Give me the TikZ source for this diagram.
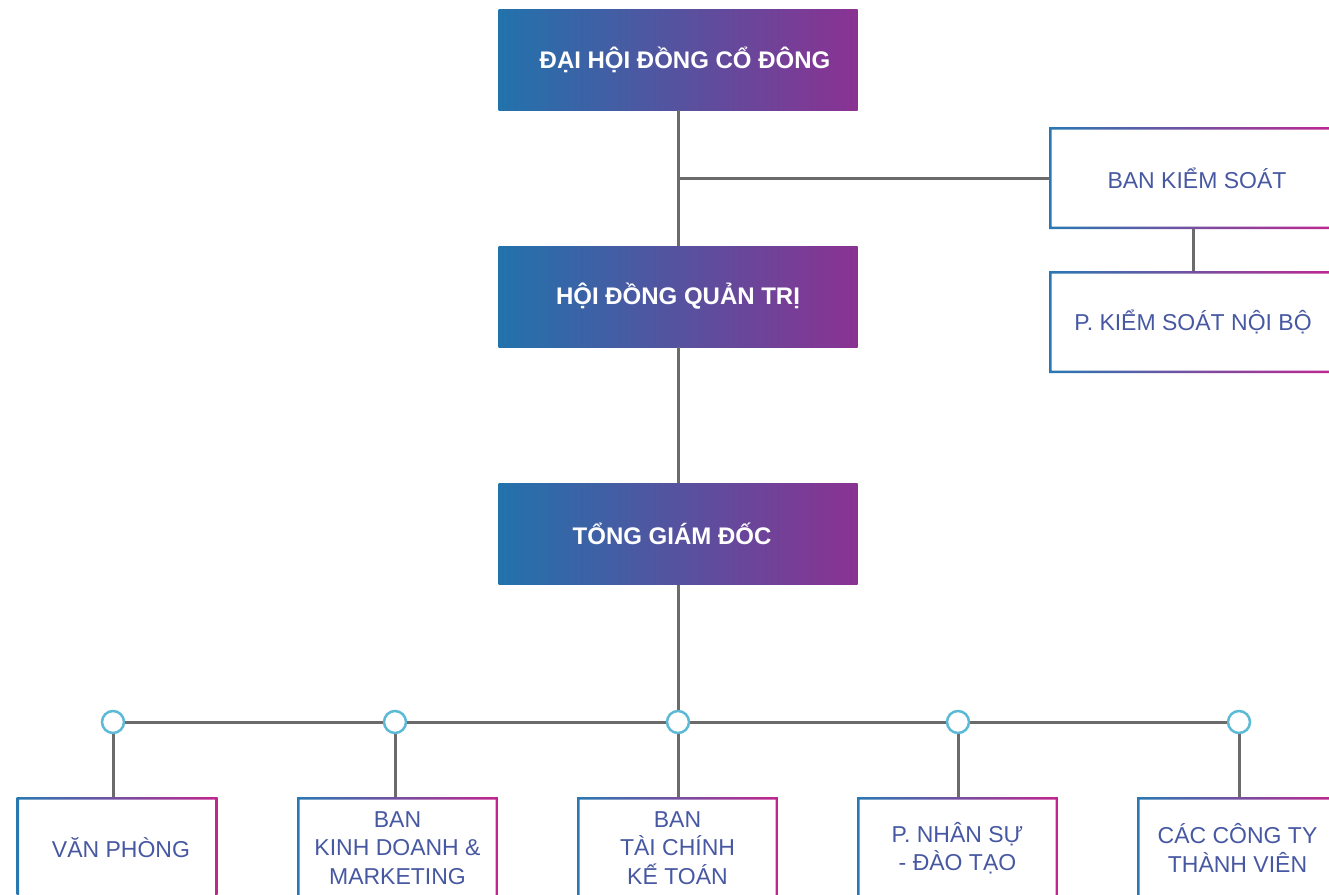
\documentclass[tikz,border=0pt]{standalone}
\usepackage{fontspec}
\setmainfont{Liberation Sans}
\usepackage{tikz}
\usetikzlibrary{calc}
\definecolor{xanhdam}{HTML}{2272AC}
\definecolor{tim}{HTML}{8A3292}
\definecolor{vienxanh}{HTML}{2A78B2}
\definecolor{vienhong}{HTML}{C0268F}
\definecolor{chu}{HTML}{4758A2}
\definecolor{xam}{HTML}{6B6B6B}
\definecolor{tronxanh}{HTML}{5CBAD6}
\tikzstyle{toto} = [rectangle, left color=xanhdam, right color=tim, minimum width=359pt, minimum height=101pt, inner sep=0pt, text=white, font=\fontsize{24}{28}\selectfont\bfseries, align=center]
\tikzstyle{khung} = [rectangle, minimum height=102pt, inner sep=0pt, text=chu, font=\fontsize{23}{28.5}\selectfont, align=center, path picture={\shade[left color=vienxanh, right color=vienhong, even odd rule] (path picture bounding box.south west) rectangle (path picture bounding box.north east) ($(path picture bounding box.south west)+(2.5pt,2.5pt)$) rectangle ($(path picture bounding box.north east)-(2.5pt,2.5pt)$);}]
\tikzstyle{tron} = [circle, draw=tronxanh, fill=white, line width=2.5pt, minimum size=22pt, inner sep=0pt]
\tikzstyle{noi} = [draw=xam, line width=3pt]

\begin{document}
\begin{tikzpicture}[x=1pt, y=-1pt]

        \useasboundingbox (0,0) rectangle (1329,894);

        \node (daihoi) [toto] at (678,59.5) {\hspace{14pt}ĐẠI HỘI ĐỒNG CỔ ĐÔNG};
        \node (hdqt) [toto] at (678,296.5) {HỘI ĐỒNG QUẢN TRỊ};
        \node (tgd) [toto] at (678,534) {TỔNG GIÁM ĐỐC\hspace{12pt}};

        \node (bks) [khung, minimum width=288pt] at (1193,178) {\hspace{8pt}BAN KIỂM SOÁT};
        \node (ksnb) [khung, minimum width=288pt] at (1193,322) {P. KIỂM SOÁT NỘI BỘ};

        \coordinate (nga) at (678,178);

        \node (o1) [tron] at (113,722) {};
        \node (o2) [tron] at (395,722) {};
        \node (o3) [tron] at (678,722) {};
        \node (o4) [tron] at (958,722) {};
        \node (o5) [tron] at (1239,722) {};

        \node (vp) [khung, minimum width=201pt] at (117,848) {\hspace{8pt}VĂN PHÒNG};
        \node (kd) [khung, minimum width=201pt] at (397.5,848) {BAN\\KINH DOANH \&\\MARKETING};
        \node (tc) [khung, minimum width=201pt] at (677.5,848) {BAN\\TÀI CHÍNH\\KẾ TOÁN};
        \node (ns) [khung, minimum width=201pt] at (957.5,848) {P. NHÂN SỰ\\- ĐÀO TẠO};
        \node (cty) [khung, minimum width=201pt] at (1237.5,848) {CÁC CÔNG TY\\THÀNH VIÊN};

        \draw[noi] (daihoi) -- (hdqt);
        \draw[noi] (hdqt) -- (tgd);
        \draw[noi] (nga) -- (bks);
        \draw[noi] (bks) -- (ksnb);

        \draw[noi] (tgd) -- (o3);
        \draw[noi] (o1) -- (o2);
        \draw[noi] (o2) -- (o3);
        \draw[noi] (o3) -- (o4);
        \draw[noi] (o4) -- (o5);

        \draw[noi] (o1) -- (o1 |- vp.north);
        \draw[noi] (o2) -- (o2 |- kd.north);
        \draw[noi] (o3) -- (o3 |- tc.north);
        \draw[noi] (o4) -- (o4 |- ns.north);
        \draw[noi] (o5) -- (o5 |- cty.north);

    \end{tikzpicture}
\end{document}
